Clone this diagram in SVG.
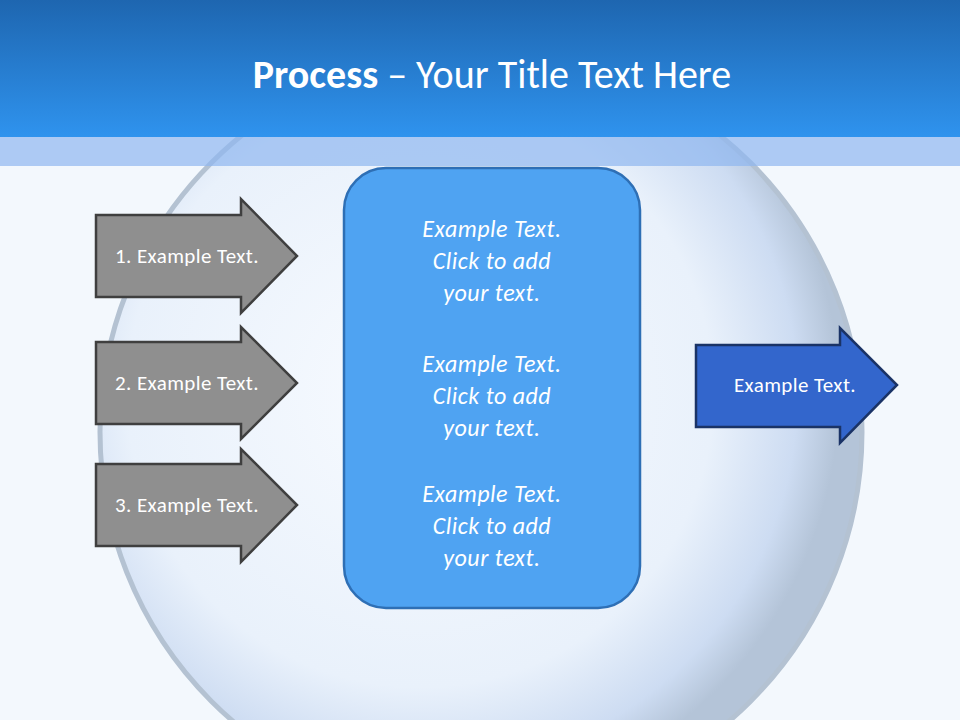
<svg xmlns="http://www.w3.org/2000/svg" width="960" height="720" viewBox="0 0 960 720">
<style>
.g{fill:#8f8f8f;stroke:#3f3f3f;stroke-width:2.5}
.b{fill:#3366cc;stroke:#1a3366;stroke-width:2.5}
.t{font-family:Carlito,"Liberation Sans",sans-serif;font-size:21px;fill:#fff;text-anchor:middle;letter-spacing:0.4px}
.c{font-family:Carlito,"Liberation Sans",sans-serif;font-size:24px;font-style:italic;fill:#fff;text-anchor:middle;letter-spacing:0.5px}
</style>
<defs>
<linearGradient id="hd" x1="0" y1="0" x2="0" y2="1"><stop offset="0" stop-color="#1e66b0"/><stop offset="1" stop-color="#2f93ee"/></linearGradient>
<radialGradient id="bub" cx="0.42" cy="0.45" r="0.55"><stop offset="0" stop-color="#f8fbff"/><stop offset="0.7" stop-color="#e9f1fb"/><stop offset="0.9" stop-color="#cddcf2"/><stop offset="1" stop-color="#b4c4d8"/></radialGradient>
</defs>
<rect width="960" height="720" fill="#f3f8fd"/>
<circle cx="481" cy="432" r="381" fill="url(#bub)" stroke="#b4c2d2" stroke-width="5"/>
<rect y="0" width="960" height="137" fill="url(#hd)"/>
<rect y="137" width="960" height="29" fill="#8fb7f0" fill-opacity="0.7"/>
<text x="492" y="88" font-family="Carlito,'Liberation Sans',sans-serif" font-size="40" fill="#fff" text-anchor="middle"><tspan font-weight="bold">Process</tspan> – Your Title Text Here</text>
<g id="connectors"/>
<g id="center">
<rect x="344" y="168" width="296" height="440" rx="42" fill="#4fa3f2" stroke="#2e6fb5" stroke-width="2.5"/>
<text class="c" x="492" y="237">Example Text.</text><text class="c" x="492" y="269">Click  to add</text><text class="c" x="492" y="301">your text.</text>
<text class="c" x="492" y="372">Example Text.</text><text class="c" x="492" y="404">Click  to add</text><text class="c" x="492" y="436">your text.</text>
<text class="c" x="492" y="502">Example Text.</text><text class="c" x="492" y="534">Click  to add</text><text class="c" x="492" y="566">your text.</text>
</g>
<g id="a1"><path class="g" d="M96 215H241V199L297 256L241 313V297H96Z"/><text class="t" x="187" y="263">1. Example Text.</text></g>
<g id="a2"><path class="g" d="M96 342H241V327L297 383L241 439V424H96Z"/><text class="t" x="187" y="390">2. Example Text.</text></g>
<g id="a3"><path class="g" d="M96 464H241V449L297 505L241 562V546H96Z"/><text class="t" x="187" y="512">3. Example Text.</text></g>
<g id="out"><path class="b" d="M696 345H840V328L897 385L840 443V427H696Z"/><text class="t" x="795" y="392">Example Text.</text></g>
</svg>
